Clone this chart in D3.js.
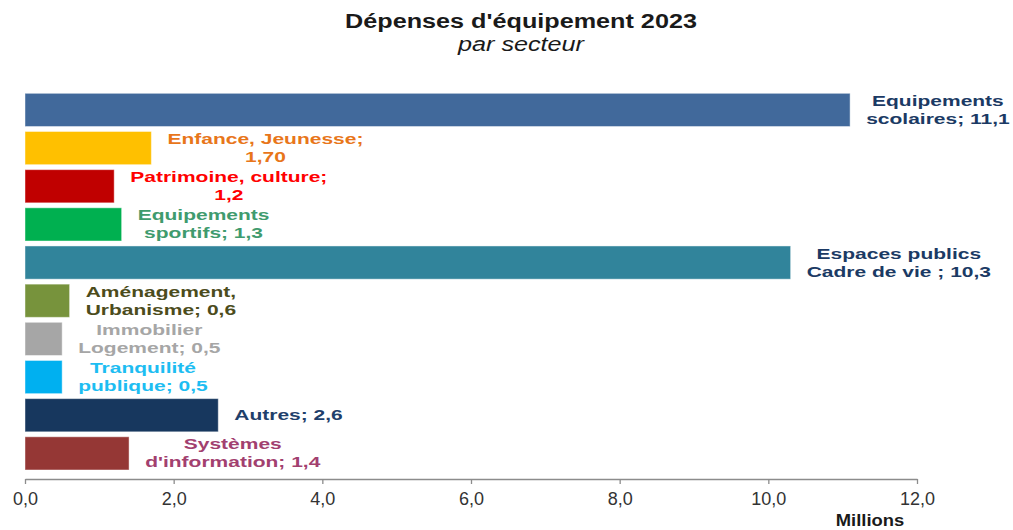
<!DOCTYPE html>
<html>
<head>
<meta charset="utf-8">
<script src="https://cdn.jsdelivr.net/npm/d3@7"></script>
<style>
  html, body { margin: 0; padding: 0; background: #fff; }
  svg { display: block; font-family: "Liberation Sans", Arial, sans-serif; }
</style>
</head>
<body>
<svg id="chart" width="1013" height="530"></svg>
<script>
// Dépenses d'équipement 2023, par secteur (en millions)
const sectors = [
  "Equipements scolaires", "Enfance, Jeunesse", "Patrimoine, culture",
  "Equipements sportifs", "Espaces publics Cadre de vie", "Aménagement, Urbanisme",
  "Immobilier Logement", "Tranquilité publique", "Autres", "Systèmes d'information"
];
const values = [11.1, 1.70, 1.2, 1.3, 10.3, 0.6, 0.5, 0.5, 2.6, 1.4];
const labelLines = [
  ["Equipements", "scolaires; 11,1"],
  ["Enfance, Jeunesse;", "1,70"],
  ["Patrimoine, culture;", "1,2"],
  ["Equipements", "sportifs; 1,3"],
  ["Espaces publics", "Cadre de vie ; 10,3"],
  ["Aménagement,", "Urbanisme; 0,6"],
  ["Immobilier", "Logement; 0,5"],
  ["Tranquilité", "publique; 0,5"],
  ["Autres; 2,6"],
  ["Systèmes", "d'information; 1,4"]
];
const barColors = ["#41699B", "#FFC000", "#C00000", "#00B050", "#31849B",
                   "#77933C", "#A6A6A6", "#00B0F0", "#17375E", "#953735"];
const labelColors = ["#1B3A64", "#E8761A", "#FF0000", "#3F9B6E", "#1B3A64",
                     "#4C4C1C", "#A6A6A6", "#1DBDF2", "#1F3F6B", "#A2406F"];
const xTicks = [0, 2, 4, 6, 8, 10, 12];
const title = "Dépenses d'équipement 2023";
const subtitle = "par secteur";
const unitLabel = "Millions";

const svg = d3.select("#chart");
const fmt = v => d3.format(".1f")(v).replace(".", ",");

const x = d3.scaleLinear().domain([0, 12]).range([25, 917]);
const y = d3.scaleBand().domain(sectors).range([89.5, 473.8])
  .paddingInner(0.13).paddingOuter(0.1);

// Titles (text is drawn slightly widened)
function wideText(g, px, py, sx, txt) {
  return g.append("g").attr("transform", `translate(${px},${py}) scale(${sx},1)`)
    .append("text").attr("text-anchor", "middle").text(txt);
}
wideText(svg, 521, 28, 1.2, title)
  .attr("font-size", 21).attr("font-weight", "bold").attr("fill", "#1a1a1a");
wideText(svg, 521, 51, 1.2, subtitle)
  .attr("font-size", 21).attr("font-style", "italic").attr("fill", "#1a1a1a");

// Bars
svg.append("g").selectAll("rect").data(sectors).join("rect")
  .attr("x", x(0))
  .attr("y", d => y(d))
  .attr("width", (d, i) => x(values[i]) - x(0))
  .attr("height", y.bandwidth())
  .attr("fill", (d, i) => barColors[i])
  .attr("stroke", "#ffffff").attr("stroke-opacity", 0.45).attr("stroke-width", 1);

// Axis
const axis = svg.append("g").attr("transform", "translate(0,479)")
  .call(d3.axisBottom(x).tickValues(xTicks).tickFormat(fmt).tickSize(5).tickSizeOuter(0));
axis.select(".domain").attr("stroke", "#8c8c8c").attr("stroke-width", 1.3);
axis.selectAll(".tick line").attr("stroke", "#8c8c8c").attr("stroke-width", 1.3);
axis.selectAll(".tick text").attr("font-size", 18).attr("fill", "#333")
  .attr("font-family", "'Liberation Sans', Arial, sans-serif").attr("dy", null).attr("y", 26);

wideText(svg, 870, 526, 1.15, unitLabel)
  .attr("font-size", 16).attr("font-weight", "bold").attr("fill", "#1a1a1a");

// Data labels: centred block placed just past the bar end
const sx = 1.4, lineH = 18, gap = 16;
const labels = svg.append("g");
sectors.forEach((s, i) => {
  const lines = labelLines[i];
  const g = labels.append("g");
  const cy = y(s) + y.bandwidth() / 2;
  const texts = lines.map((ln, k) => {
    const baseline = lines.length === 1 ? cy + 5 : cy - 4 + k * lineH;
    const t = g.append("g").attr("data-base", baseline)
      .append("text").attr("text-anchor", "middle")
      .attr("font-size", 15).attr("font-weight", "bold")
      .attr("fill", labelColors[i]).text(ln);
    return t;
  });
  const w = d3.max(texts, t => t.node().getComputedTextLength()) * sx;
  const cx = x(values[i]) + gap + w / 2;
  texts.forEach(t => {
    const p = d3.select(t.node().parentNode);
    p.attr("transform", `translate(${cx},${p.attr("data-base")}) scale(${sx},1)`);
  });
});
</script>
</body>
</html>
